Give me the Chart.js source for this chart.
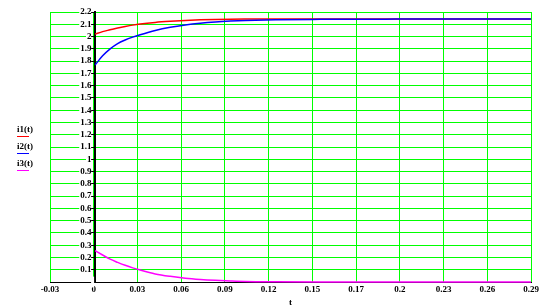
<!DOCTYPE html>
<html>
<head>
<meta charset="utf-8">
<script src="https://cdn.jsdelivr.net/npm/chart.js@4/dist/chart.umd.min.js"></script>
<style>
  html, body { margin: 0; padding: 0; background: #fff; }
  #wrap { width: 550px; height: 307px; }
</style>
</head>
<body>
<div id="wrap"><canvas id="myChart" width="550" height="307"></canvas></div>
<script>
var tValues = [0, 0.005, 0.01, 0.015, 0.02, 0.025, 0.03, 0.04, 0.05, 0.06, 0.07, 0.08, 0.09, 0.1, 0.12, 0.15, 0.2, 0.29];
var i1Values = [2.02, 2.04, 2.055, 2.07, 2.082, 2.093, 2.102, 2.115, 2.124, 2.131, 2.136, 2.139, 2.141, 2.142, 2.143, 2.143, 2.143, 2.143];
var i2Values = [1.768, 1.843, 1.9, 1.943, 1.972, 1.995, 2.015, 2.05, 2.076, 2.095, 2.109, 2.119, 2.126, 2.131, 2.137, 2.14, 2.142, 2.143];
var i3Values = [0.255, 0.22, 0.186, 0.16, 0.136, 0.115, 0.097, 0.066, 0.046, 0.031, 0.021, 0.014, 0.009, 0.005, 0.002, 0, 0, 0];
var xTickLabels = ["-0.03", "0", "0.03", "0.06", "0.09", "0.12", "0.15", "0.17", "0.2", "0.23", "0.26", "0.29"];
var xMin = -0.03;
var xMax = 0.29;

var tickFont = { family: "'Liberation Serif', 'DejaVu Serif', serif", size: 9, weight: "bold" };

function points(values){
    return tValues.map(function(t, i){ return { x: t, y: values[i] }; });
}

function makeSet(label, color, values, order){
    return {
        label: label,
        data: points(values),
        borderColor: color,
        backgroundColor: color,
        borderWidth: 1.5,
        pointRadius: 0,
        fill: false,
        cubicInterpolationMode: "monotone",
        clip: false,
        order: order
    };
}

// legend drawn Mathcad style: name with a short coloured line under it
var sideLegend = {
    id: "sideLegend",
    afterDraw: function(chart){
        var ctx = chart.ctx;
        var rows = [130, 147, 164];
        ctx.save();
        ctx.font = "bold 9px 'Liberation Serif', serif";
        ctx.textBaseline = "middle";
        ctx.textAlign = "left";
        chart.data.datasets.forEach(function(ds, i){
            ctx.fillStyle = "#000";
            ctx.fillText(ds.label, 17, rows[i]);
            ctx.strokeStyle = ds.borderColor;
            ctx.lineWidth = 1;
            ctx.beginPath();
            ctx.moveTo(17, rows[i] + 6.5);
            ctx.lineTo(29, rows[i] + 6.5);
            ctx.stroke();
        });
        ctx.restore();
    }
};

var ctx = document.getElementById("myChart").getContext("2d");

var myChart = new Chart(ctx, {
    type: "line",
    data: {
        datasets: [
            makeSet("i1(t)", "#ff0000", i1Values, 1),
            makeSet("i2(t)", "#0000ff", i2Values, 0),
            makeSet("i3(t)", "#ff00ff", i3Values, 2)
        ]
    },
    options: {
        responsive: false,
        animation: false,
        layout: { padding: { left: 50, right: 19, top: 12, bottom: 0 } },
        plugins: {
            legend: { display: false },
            tooltip: { enabled: false }
        },
        scales: {
            x: {
                type: "linear",
                position: "bottom",
                min: xMin,
                max: xMax,
                afterBuildTicks: function(scale){
                    scale.ticks = xTickLabels.map(function(l, i){
                        return { value: xMin + i * (xMax - xMin) / (xTickLabels.length - 1) };
                    });
                },
                afterFit: function(scale){ scale.height = 25; },
                grid: { color: "#00ff00", lineWidth: 1, drawTicks: false },
                border: { color: "#000", width: 1 },
                ticks: {
                    padding: 2,
                    color: "#000",
                    font: tickFont,
                    maxRotation: 0,
                    autoSkip: false,
                    callback: function(v, i){ return xTickLabels[i]; }
                },
                title: {
                    display: true,
                    text: "t",
                    color: "#000",
                    font: tickFont,
                    padding: { top: 0, bottom: -1 }
                }
            },
            y: {
                position: { x: 0 },
                min: 0,
                max: 2.2,
                grid: { color: "#00ff00", lineWidth: 1, drawTicks: true, tickLength: 5, tickColor: "#000" },
                border: { color: "#000", width: 2 },
                ticks: {
                    stepSize: 0.1,
                    autoSkip: false,
                    color: "#000",
                    font: tickFont,
                    showLabelBackdrop: true,
                    backdropColor: "#fff",
                    backdropPadding: { top: 0, bottom: 0, left: 1, right: -4 },
                    callback: function(v){
                        var r = Math.round(v * 10) / 10;
                        if (r === 0) return "";
                        return String(r) + "\u2009\u2009";
                    }
                }
            }
        }
    },
    plugins: [sideLegend]
});
</script>
</body>
</html>
